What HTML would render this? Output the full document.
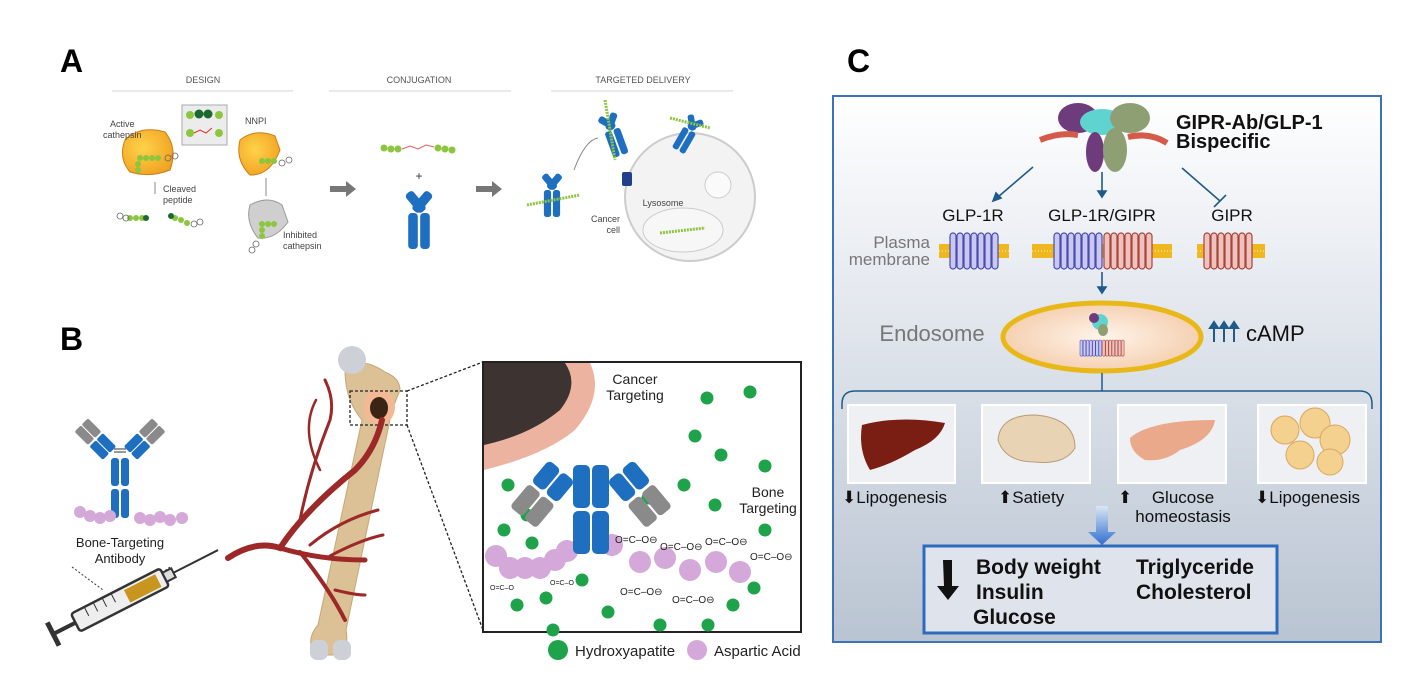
<!DOCTYPE html>
<html><head><meta charset="utf-8"><style>
html,body{margin:0;padding:0;background:#fff;}
svg{display:block;font-family:"Liberation Sans",sans-serif;}
</style></head><body>
<svg width="1416" height="677" viewBox="0 0 1416 677" xmlns="http://www.w3.org/2000/svg">
<defs>
<linearGradient id="cbg" x1="0" y1="0" x2="0" y2="1"><stop offset="0" stop-color="#ffffff"/><stop offset="0.35" stop-color="#e6eaf0"/><stop offset="1" stop-color="#b9c4d2"/></linearGradient>
<radialGradient id="endo" cx="0.5" cy="0.5" r="0.6"><stop offset="0" stop-color="#fff4ea"/><stop offset="1" stop-color="#f3c9a6"/></radialGradient>
<linearGradient id="barrow" x1="0" y1="0" x2="0" y2="1"><stop offset="0" stop-color="#dbe6f5"/><stop offset="1" stop-color="#2f6fcf"/></linearGradient>
<radialGradient id="orng" cx="0.4" cy="0.4" r="0.7"><stop offset="0" stop-color="#ffd24a"/><stop offset="1" stop-color="#f0a020"/></radialGradient>
<g id="bl7"><rect x="0" y="0" width="6" height="36" rx="3" fill="#c9c9f0" stroke="#4a4ab0" stroke-width="1.2"/><rect x="7" y="0" width="6" height="36" rx="3" fill="#c9c9f0" stroke="#4a4ab0" stroke-width="1.2"/><rect x="14" y="0" width="6" height="36" rx="3" fill="#c9c9f0" stroke="#4a4ab0" stroke-width="1.2"/><rect x="21" y="0" width="6" height="36" rx="3" fill="#c9c9f0" stroke="#4a4ab0" stroke-width="1.2"/><rect x="28" y="0" width="6" height="36" rx="3" fill="#c9c9f0" stroke="#4a4ab0" stroke-width="1.2"/><rect x="35" y="0" width="6" height="36" rx="3" fill="#c9c9f0" stroke="#4a4ab0" stroke-width="1.2"/><rect x="42" y="0" width="6" height="36" rx="3" fill="#c9c9f0" stroke="#4a4ab0" stroke-width="1.2"/></g>
<g id="rd7"><rect x="0" y="0" width="6" height="36" rx="3" fill="#eec3bd" stroke="#a8433c" stroke-width="1.2"/><rect x="7" y="0" width="6" height="36" rx="3" fill="#eec3bd" stroke="#a8433c" stroke-width="1.2"/><rect x="14" y="0" width="6" height="36" rx="3" fill="#eec3bd" stroke="#a8433c" stroke-width="1.2"/><rect x="21" y="0" width="6" height="36" rx="3" fill="#eec3bd" stroke="#a8433c" stroke-width="1.2"/><rect x="28" y="0" width="6" height="36" rx="3" fill="#eec3bd" stroke="#a8433c" stroke-width="1.2"/><rect x="35" y="0" width="6" height="36" rx="3" fill="#eec3bd" stroke="#a8433c" stroke-width="1.2"/><rect x="42" y="0" width="6" height="36" rx="3" fill="#eec3bd" stroke="#a8433c" stroke-width="1.2"/></g>
<g id="ab"><rect x="-9" y="0" width="8" height="30" rx="3" fill="#1f6fc0"/><rect x="1" y="0" width="8" height="30" rx="3" fill="#1f6fc0"/><rect x="-9" y="-22" width="8" height="20" rx="3" fill="#1f6fc0" transform="rotate(40 -5 0)"/><rect x="1" y="-22" width="8" height="20" rx="3" fill="#1f6fc0" transform="rotate(-40 5 0)"/></g>
</defs>

<text x="60" y="72" font-size="32" font-weight="bold">A</text>
<text x="60" y="350" font-size="32" font-weight="bold">B</text>
<text x="847" y="72" font-size="32" font-weight="bold">C</text>

<!-- PANEL A -->
<g font-size="9" fill="#555">
<text x="203" y="83" text-anchor="middle">DESIGN</text>
<text x="419" y="83" text-anchor="middle">CONJUGATION</text>
<text x="643" y="83" text-anchor="middle">TARGETED DELIVERY</text>
</g>
<g stroke="#ddd" stroke-width="1.2"><line x1="112" y1="91" x2="293" y2="91"/><line x1="329" y1="91" x2="511" y2="91"/><line x1="551" y1="91" x2="733" y2="91"/></g>
<path d="M125 140 Q140 125 165 132 Q178 148 170 170 Q150 178 130 172 Q118 158 125 140Z" fill="url(#orng)" stroke="#c98010"/>
<rect x="182" y="105" width="45" height="40" fill="#ececec" stroke="#aaa"/>
<circle cx="190" cy="115" r="4" fill="#8cc63f"/><circle cx="199" cy="114" r="4.5" fill="#1a6a30"/><circle cx="208" cy="114" r="4.5" fill="#1a6a30"/><circle cx="219" cy="115" r="4" fill="#8cc63f"/>
<circle cx="190" cy="133" r="4" fill="#8cc63f"/><path d="M194 133 l6 -3 l6 3 l6 -5" stroke="#e03030" fill="none"/><circle cx="219" cy="133" r="4" fill="#8cc63f"/>
<path d="M240 140 Q255 128 275 136 L280 150 Q270 176 250 175 Q235 160 240 140Z" fill="url(#orng)" stroke="#c98010"/>
<path d="M250 205 Q268 195 282 205 L288 222 Q275 240 258 238 Q245 222 250 205Z" fill="#cfcfcf" stroke="#999"/>
<g fill="#8cc63f"><circle cx="140" cy="158" r="3"/><circle cx="146" cy="158" r="3"/><circle cx="152" cy="158" r="3"/><circle cx="158" cy="158" r="3"/><circle cx="138" cy="164" r="3"/><circle cx="138" cy="170" r="3"/><circle cx="262" cy="161" r="3"/><circle cx="268" cy="161" r="3"/><circle cx="274" cy="161" r="3"/><circle cx="262" cy="224" r="3"/><circle cx="268" cy="224" r="3"/><circle cx="274" cy="224" r="3"/><circle cx="262" cy="230" r="3"/><circle cx="262" cy="236" r="3"/>
<circle cx="130" cy="218" r="3"/><circle cx="136" cy="218" r="3"/><circle cx="142" cy="218" r="3"/><circle cx="175" cy="218" r="3"/><circle cx="181" cy="220" r="3"/><circle cx="187" cy="223" r="3"/></g>
<circle cx="146" cy="218" r="3" fill="#1a6a30"/><circle cx="171" cy="216" r="3" fill="#1a6a30"/>
<g fill="none" stroke="#666" stroke-width="0.8"><circle cx="168" cy="158" r="3"/><circle cx="175" cy="156" r="3"/><circle cx="126" cy="218" r="3"/><circle cx="120" cy="216" r="3"/><circle cx="194" cy="224" r="3"/><circle cx="200" cy="222" r="3"/><circle cx="282" cy="163" r="3"/><circle cx="289" cy="160" r="3"/><circle cx="256" cy="244" r="3"/><circle cx="252" cy="250" r="3"/></g>
<g font-size="9" fill="#444"><text x="110" y="127">Active</text><text x="103" y="138">cathepsin</text><text x="163" y="192">Cleaved</text><text x="163" y="203">peptide</text><text x="245" y="124">NNPI</text><text x="283" y="238">Inhibited</text><text x="283" y="249">cathepsin</text></g>
<path d="M155 182 v12" stroke="#888"/><path d="M266 178 v18" stroke="#888"/>
<path d="M330 186 h16 v-5 l10 8 l-10 8 v-5 h-16z" fill="#777"/>
<path d="M476 186 h16 v-5 l10 8 l-10 8 v-5 h-16z" fill="#777"/>
<g fill="#8cc63f"><circle cx="384" cy="148" r="3.5"/><circle cx="391" cy="149" r="3.5"/><circle cx="398" cy="149" r="3.5"/><circle cx="438" cy="148" r="3.5"/><circle cx="445" cy="149" r="3.5"/><circle cx="452" cy="150" r="3.5"/></g>
<path d="M402 149 l8 -3 l8 3 l8 -4 l8 2" stroke="#e06060" fill="none"/>
<text x="419" y="180" font-size="12" text-anchor="middle" fill="#333">+</text>
<g transform="translate(419,213) scale(1.2)"><use href="#ab"/></g>
<ellipse cx="690" cy="197" rx="65" ry="64" fill="#f3f3f3" stroke="#ccc" stroke-width="2"/>
<ellipse cx="683" cy="230" rx="40" ry="22" fill="#f7f7f7" stroke="#ccc"/>
<circle cx="718" cy="185" r="13" fill="#fafafa" stroke="#ccc"/>
<g font-size="9" fill="#444"><text x="663" y="206" text-anchor="middle">Lysosome</text><text x="620" y="222" text-anchor="end">Cancer</text><text x="620" y="233" text-anchor="end">cell</text></g>
<g transform="translate(552,190) scale(0.9)"><use href="#ab"/></g>
<g transform="translate(612,130) rotate(-20) scale(0.9)"><use href="#ab"/></g>
<g transform="translate(690,130) rotate(30) scale(0.8)"><use href="#ab"/></g>
<g stroke="#8cc63f" stroke-width="3" stroke-dasharray="2 1"><line x1="527" y1="205" x2="580" y2="195"/><line x1="605" y1="100" x2="615" y2="160"/><line x1="670" y1="118" x2="710" y2="128"/><line x1="660" y1="233" x2="705" y2="228"/></g>
<rect x="622" y="172" width="10" height="14" fill="#223f8c" rx="2"/>
<path d="M574 170 Q585 140 598 138" stroke="#888" fill="none"/>

<!-- PANEL B -->
<g>
<rect x="111" y="458" width="8" height="28" rx="3" fill="#1f6fc0"/><rect x="121" y="458" width="8" height="28" rx="3" fill="#1f6fc0"/>
<rect x="111" y="489" width="8" height="29" rx="3" fill="#1f6fc0"/><rect x="121" y="489" width="8" height="29" rx="3" fill="#1f6fc0"/>
<g stroke="#333" stroke-width="1"><line x1="114" y1="449" x2="126" y2="449"/><line x1="114" y1="452" x2="126" y2="452"/></g>
<g transform="translate(112,455) rotate(-45)"><rect x="-10" y="-22" width="9" height="19" rx="2" fill="#1f6fc0"/><rect x="0" y="-22" width="9" height="19" rx="2" fill="#1f6fc0"/><rect x="-10" y="-43" width="9" height="19" rx="2" fill="#8a8a8a"/><rect x="0" y="-43" width="9" height="19" rx="2" fill="#8a8a8a"/></g>
<g transform="translate(128,455) rotate(45)"><rect x="-9" y="-22" width="9" height="19" rx="2" fill="#1f6fc0"/><rect x="1" y="-22" width="9" height="19" rx="2" fill="#1f6fc0"/><rect x="-9" y="-43" width="9" height="19" rx="2" fill="#8a8a8a"/><rect x="1" y="-43" width="9" height="19" rx="2" fill="#8a8a8a"/></g>
</g>
<g fill="#d4a8d8"><circle cx="80" cy="512" r="6"/><circle cx="90" cy="516" r="6"/><circle cx="100" cy="518" r="6"/><circle cx="110" cy="516" r="6"/><circle cx="140" cy="518" r="6"/><circle cx="150" cy="520" r="6"/><circle cx="160" cy="517" r="6"/><circle cx="170" cy="520" r="6"/><circle cx="182" cy="518" r="6"/></g>
<text x="120" y="547" font-size="13" text-anchor="middle" fill="#222">Bone-Targeting</text>
<text x="120" y="563" font-size="13" text-anchor="middle" fill="#222">Antibody</text>
<g stroke="#333" stroke-dasharray="2 2"><line x1="72" y1="567" x2="103" y2="590"/><line x1="170" y1="567" x2="145" y2="585"/></g>
<g transform="translate(120,600) rotate(-27)">
<rect x="-50" y="-10" width="100" height="20" rx="3" fill="#eee" stroke="#333" stroke-width="2.5"/>
<rect x="8" y="-7" width="35" height="14" fill="#c8961e"/>
<rect x="50" y="-5" width="10" height="10" fill="#ddd" stroke="#333" stroke-width="2"/>
<line x1="60" y1="0" x2="110" y2="0" stroke="#333" stroke-width="2"/>
<line x1="-50" y1="0" x2="-75" y2="0" stroke="#333" stroke-width="4"/><line x1="-75" y1="-13" x2="-75" y2="13" stroke="#333" stroke-width="5"/>
<g stroke="#333"><line x1="-35" y1="-10" x2="-35" y2="0"/><line x1="-25" y1="-10" x2="-25" y2="0"/><line x1="-15" y1="-10" x2="-15" y2="0"/><line x1="-5" y1="-10" x2="-5" y2="0"/></g>
</g>
<path d="M345 370 Q360 355 385 372 Q400 378 400 390 L392 410 L346 630 Q350 650 335 655 L315 655 Q305 640 318 625 L362 420 Q345 400 345 370Z" fill="#dcc197" stroke="#c7a674"/>
<circle cx="352" cy="360" r="14" fill="#cdd0d6"/>
<rect x="310" y="640" width="18" height="20" rx="7" fill="#cdd0d6"/><rect x="333" y="640" width="18" height="20" rx="7" fill="#cdd0d6"/>
<ellipse cx="379" cy="407" rx="16" ry="18" fill="#f2b994"/><ellipse cx="379" cy="408" rx="9" ry="11" fill="#3a2515"/>
<rect x="350" y="391" width="57" height="34" fill="none" stroke="#222" stroke-dasharray="3 2" stroke-width="1.3"/>
<g stroke="#222" stroke-dasharray="3 2" stroke-width="1.3"><line x1="407" y1="391" x2="483" y2="362"/><line x1="407" y1="425" x2="483" y2="630"/></g>
<g stroke="#9c2828" fill="none" stroke-linecap="round">
<path d="M228 558 Q255 540 280 548 Q305 510 355 470 Q375 450 382 420" stroke-width="6"/>
<path d="M280 548 Q320 560 365 560" stroke-width="5"/>
<path d="M300 552 Q330 590 345 620" stroke-width="4"/>
<path d="M300 520 Q310 470 330 420 Q335 400 325 380" stroke-width="3"/>
<path d="M320 470 Q300 430 316 400" stroke-width="2.5"/>
<path d="M310 545 Q340 520 378 510" stroke-width="3"/>
<path d="M330 556 Q360 540 383 535" stroke-width="3"/>
<path d="M335 590 Q355 595 365 595" stroke-width="3"/>
</g>
<rect x="483" y="362" width="318" height="270" fill="#fff" stroke="#222" stroke-width="2"/>
<path d="M484 363 H590 Q605 395 575 430 Q545 455 484 470Z" fill="#e8a08a" opacity="0.8"/>
<path d="M484 363 H565 Q580 385 560 410 Q530 435 484 445Z" fill="#3d3330"/>
<text x="635" y="384" font-size="14" text-anchor="middle" fill="#222">Cancer</text>
<text x="635" y="400" font-size="14" text-anchor="middle" fill="#222">Targeting</text>
<text x="768" y="497" font-size="14" text-anchor="middle" fill="#222">Bone</text>
<text x="768" y="513" font-size="14" text-anchor="middle" fill="#222">Targeting</text>
<g fill="#1fa34a">
<circle cx="707" cy="398" r="6.5"/><circle cx="750" cy="392" r="6.5"/><circle cx="695" cy="436" r="6.5"/><circle cx="721" cy="455" r="6.5"/><circle cx="765" cy="466" r="6.5"/><circle cx="684" cy="485" r="6.5"/><circle cx="648" cy="498" r="6.5"/><circle cx="715" cy="505" r="6.5"/><circle cx="765" cy="530" r="6.5"/><circle cx="508" cy="485" r="6.5"/><circle cx="527" cy="515" r="6.5"/><circle cx="504" cy="530" r="6.5"/><circle cx="532" cy="543" r="6.5"/><circle cx="582" cy="580" r="6.5"/><circle cx="517" cy="605" r="6.5"/><circle cx="546" cy="598" r="6.5"/><circle cx="608" cy="612" r="6.5"/><circle cx="660" cy="625" r="6.5"/><circle cx="708" cy="625" r="6.5"/><circle cx="733" cy="605" r="6.5"/><circle cx="754" cy="588" r="6.5"/><circle cx="553" cy="630" r="6.5"/></g>
<g fill="#d4a8d8">
<circle cx="496" cy="556" r="11"/><circle cx="510" cy="568" r="11"/><circle cx="525" cy="568" r="11"/><circle cx="540" cy="568" r="11"/><circle cx="555" cy="560" r="11"/><circle cx="567" cy="551" r="11"/><circle cx="612" cy="545" r="11"/><circle cx="640" cy="562" r="11"/><circle cx="665" cy="558" r="11"/><circle cx="690" cy="570" r="11"/><circle cx="716" cy="562" r="11"/><circle cx="740" cy="572" r="11"/></g>
<g transform="translate(591,465)">
<rect x="-18" y="0" width="17" height="43" rx="5" fill="#1f6fc0"/><rect x="1" y="0" width="17" height="43" rx="5" fill="#1f6fc0"/>
<rect x="-18" y="46" width="17" height="43" rx="5" fill="#1f6fc0"/><rect x="1" y="46" width="17" height="43" rx="5" fill="#1f6fc0"/>
<g transform="rotate(-50 -20 -5)"><rect x="-62" y="-22" width="28" height="16" rx="5" fill="#1f6fc0"/><rect x="-62" y="-4" width="28" height="16" rx="5" fill="#1f6fc0"/><rect x="-95" y="-22" width="30" height="16" rx="4" fill="#8a8a8a"/><rect x="-95" y="-4" width="30" height="16" rx="4" fill="#8a8a8a"/></g>
<g transform="rotate(50 20 -5)"><rect x="34" y="-22" width="28" height="16" rx="5" fill="#1f6fc0"/><rect x="34" y="-4" width="28" height="16" rx="5" fill="#1f6fc0"/><rect x="65" y="-22" width="30" height="16" rx="4" fill="#8a8a8a"/><rect x="65" y="-4" width="30" height="16" rx="4" fill="#8a8a8a"/></g>
</g>
<g font-size="10" fill="#222"><text x="615" y="543">O=C–O⊖</text><text x="660" y="550">O=C–O⊖</text><text x="705" y="545">O=C–O⊖</text><text x="750" y="560">O=C–O⊖</text><text x="620" y="595">O=C–O⊖</text><text x="672" y="603">O=C–O⊖</text><text x="490" y="590" font-size="7">O=C–O</text><text x="550" y="585" font-size="7">O=C–O</text></g>
<circle cx="558" cy="650" r="10" fill="#1fa34a"/>
<text x="575" y="656" font-size="15" fill="#222">Hydroxyapatite</text>
<circle cx="697" cy="650" r="10" fill="#d4a8d8"/>
<text x="714" y="656" font-size="15" fill="#222">Aspartic Acid</text>

<!-- PANEL C -->
<rect x="833" y="96" width="548" height="546" fill="url(#cbg)" stroke="#3b72b8" stroke-width="2"/>
<ellipse cx="1078" cy="118" rx="20" ry="15" fill="#6e3c7c"/><ellipse cx="1102" cy="122" rx="22" ry="13" fill="#5fd3d0"/><ellipse cx="1130" cy="118" rx="20" ry="15" fill="#8ea073"/>
<ellipse cx="1095" cy="152" rx="9" ry="20" fill="#6e3c7c"/><ellipse cx="1115" cy="150" rx="12" ry="22" fill="#8ea073"/>
<path d="M1040 140 Q1060 132 1078 135" stroke="#d55a4a" stroke-width="6" fill="none"/><path d="M1128 137 Q1150 132 1167 143" stroke="#d55a4a" stroke-width="6" fill="none"/>
<text x="1176" y="129" font-size="20" font-weight="bold" fill="#111">GIPR-Ab/GLP-1</text>
<text x="1176" y="148" font-size="20" font-weight="bold" fill="#111">Bispecific</text>
<g stroke="#1f5a8a" stroke-width="1.6" fill="#1f5a8a">
<line x1="1033" y1="167" x2="998" y2="197"/><path d="M993 201 l3 -8 l5 5z"/>
<line x1="1102" y1="172" x2="1102" y2="192"/><path d="M1098 191 h8 l-4 6z"/>
<line x1="1182" y1="168" x2="1220" y2="201" fill="none"/><line x1="1214" y1="207" x2="1226" y2="195"/>
<line x1="1102" y1="272" x2="1102" y2="288"/><path d="M1098 287 h8 l-4 6z"/>
</g>
<g font-size="17" fill="#111" text-anchor="middle"><text x="973" y="221">GLP-1R</text><text x="1102" y="221">GLP-1R/GIPR</text><text x="1232" y="221">GIPR</text></g>
<g font-size="17" fill="#777" text-anchor="end"><text x="930" y="248">Plasma</text><text x="930" y="265">membrane</text></g>
<g fill="#efb820"><rect x="939" y="244" width="70" height="14"/><rect x="1032" y="244" width="140" height="14"/><rect x="1197" y="244" width="68" height="14"/></g>
<g stroke="#fff3c0" stroke-width="1" stroke-dasharray="1 2"><line x1="939" y1="251" x2="1009" y2="251"/><line x1="1032" y1="251" x2="1172" y2="251"/><line x1="1197" y1="251" x2="1265" y2="251"/></g>
<use href="#bl7" x="950" y="233"/><use href="#bl7" x="1054" y="233"/><use href="#rd7" x="1104" y="233"/><use href="#rd7" x="1204" y="233"/>
<ellipse cx="1102" cy="337" rx="99" ry="34" fill="url(#endo)" stroke="#e8b818" stroke-width="5"/>
<g transform="translate(1080,340) scale(0.45)"><use href="#bl7"/><use href="#rd7" x="50"/></g>
<ellipse cx="1100" cy="322" rx="8" ry="8" fill="#5fd3d0"/><ellipse cx="1094" cy="318" rx="5" ry="5" fill="#6e3c7c"/><ellipse cx="1103" cy="330" rx="5" ry="6" fill="#8ea073"/>
<text x="932" y="341" font-size="22" fill="#777" text-anchor="middle">Endosome</text>
<g stroke="#1f5a8a" stroke-width="2" fill="#1f5a8a"><line x1="1214" y1="342" x2="1214" y2="326"/><line x1="1224" y1="342" x2="1224" y2="326"/><line x1="1234" y1="342" x2="1234" y2="326"/><path d="M1210 328 l4 -6 l4 6z M1220 328 l4 -6 l4 6z M1230 328 l4 -6 l4 6z"/></g>
<text x="1246" y="341" font-size="22" fill="#111">cAMP</text>
<g stroke="#1f5a8a" stroke-width="1.5" fill="none"><line x1="1102" y1="373" x2="1102" y2="391"/><path d="M842 409 V404 Q842 391 855 391 H1360 Q1372 391 1372 404 V409"/></g>
<g fill="#eef0f3" stroke="#fff" stroke-width="2"><rect x="848" y="405" width="107" height="78"/><rect x="982" y="405" width="108" height="78"/><rect x="1118" y="405" width="108" height="78"/><rect x="1258" y="405" width="108" height="78"/></g>
<path d="M862 425 Q900 415 945 423 Q940 440 915 450 Q890 465 870 470 Q858 450 862 425Z" fill="#7a1e14"/>
<path d="M998 440 Q1000 415 1035 415 Q1075 418 1075 448 Q1065 465 1035 462 Q1005 462 998 440Z" fill="#e8d4b4" stroke="#b89a78"/>
<path d="M1130 438 Q1150 420 1215 420 Q1212 440 1180 450 Q1165 462 1145 460 Q1130 452 1130 438Z" fill="#e9a98a"/>
<g fill="#f4d18e" stroke="#d8a860"><circle cx="1285" cy="430" r="14"/><circle cx="1315" cy="423" r="15"/><circle cx="1335" cy="440" r="15"/><circle cx="1300" cy="455" r="14"/><circle cx="1330" cy="462" r="13"/></g>
<g font-size="17" fill="#111"><text x="842" y="503">⬇Lipogenesis</text><text x="998" y="503">⬆Satiety</text><text x="1118" y="503">⬆</text><text x="1183" y="503" text-anchor="middle">Glucose</text><text x="1183" y="522" text-anchor="middle">homeostasis</text><text x="1255" y="503">⬇Lipogenesis</text></g>
<path d="M1096 506 h12 v26 h8 l-14 13 l-14 -13 h8z" fill="url(#barrow)"/>
<rect x="924" y="546" width="353" height="87" fill="#dfe4ec" stroke="#2e6bbf" stroke-width="3"/>
<path d="M943 560 h9 v26 h7 l-11 14 l-11 -14 h7z" fill="#111"/>
<g font-size="21" font-weight="bold" fill="#111"><text x="976" y="574">Body weight</text><text x="976" y="599">Insulin</text><text x="973" y="624">Glucose</text><text x="1136" y="574">Triglyceride</text><text x="1136" y="599">Cholesterol</text></g>
</svg>
</body></html>
